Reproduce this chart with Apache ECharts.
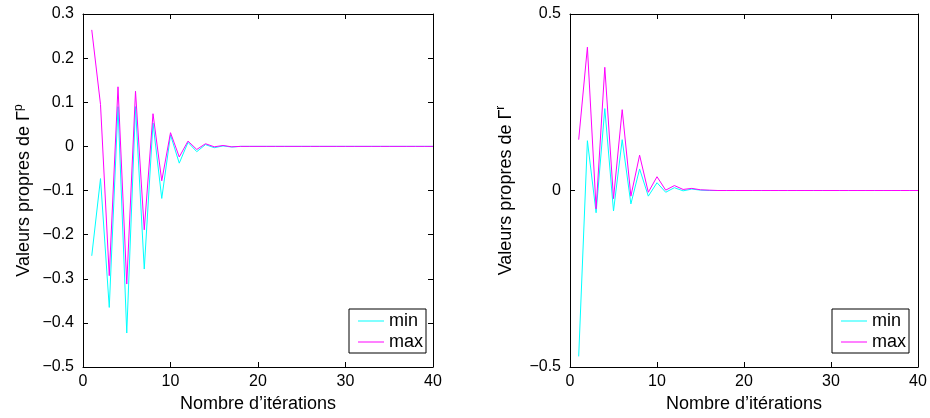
<!DOCTYPE html>
<html><head><meta charset="utf-8">
<script src="https://cdn.jsdelivr.net/npm/echarts@6/dist/echarts.min.js"></script>
<style>html,body{margin:0;padding:0;background:#fff}#c{width:930px;height:418px}</style>
</head><body><div id="c"></div>
<script>
var iterations = [1,2,3,4,5,6,7,8,9,10,11,12,13,14,15,16,17,18,19,20,21,22,23,24,25,26,27,28,29,30,31,32,33,34,35,36,37,38,39,40];
var leftMin = [-0.248,-0.073,-0.365,0.09,-0.423,0.09,-0.278,0.053,-0.118,0.026,-0.038,0.009,-0.012,0.004,-0.003,0.001,-0.0015,0,0,0,0,0,0,0,0,0,0,0,0,0,0,0,0,0,0,0,0,0,0,0];
var leftMax = [0.264,0.095,-0.293,0.135,-0.312,0.125,-0.189,0.074,-0.078,0.031,-0.024,0.012,-0.007,0.006,-0.001,0.002,-0.001,0,0,0,0,0,0,0,0,0,0,0,0,0,0,0,0,0,0,0,0,0,0,0];
var rightMin = [-0.47,0.141,-0.063,0.232,-0.058,0.144,-0.038,0.061,-0.016,0.022,-0.005,0.008,-0.001,0.004,0.001,0,0,0,0,0,0,0,0,0,0,0,0,0,0,0,0,0,0,0,0,0,0,0,0,0];
var rightMax = [0.144,0.406,-0.052,0.349,-0.023,0.229,-0.016,0.1,-0.005,0.039,0.001,0.014,0.003,0.006,0.002,0.001,0,0,0,0,0,0,0,0,0,0,0,0,0,0,0,0,0,0,0,0,0,0,0,0];
var xTicks = [0,10,20,30,40];
var seriesNames = ['min','max'];

function pairs(ys){ return iterations.map(function(x,i){return [x, ys[i]];}); }
var FONT = 'Liberation Sans, Arial, sans-serif';
var lab = {color:'#000', fontFamily:FONT, fontSize:16};
var axLine = {show:true, onZero:false, lineStyle:{color:'#000', width:1}};
var tick = {show:true, inside:true, length:5, lineStyle:{color:'#000'}};
function xAx(gi, pos, showLab){
  return {type:'value', gridIndex:gi, position:pos, min:xTicks[0], max:xTicks[xTicks.length-1], interval:10,
    axisLine:axLine, axisTick:tick, splitLine:{show:false},
    axisLabel: showLab ? Object.assign({margin:7}, lab) : {show:false},
    name: showLab ? 'Nombre d\u2019itérations' : '', nameLocation:'middle', nameGap:28,
    nameTextStyle:{color:'#000', fontFamily:FONT, fontSize:18}};
}
function yAx(gi, pos, showLab, mn, mx, iv, sup, gap){
  return {type:'value', gridIndex:gi, position:pos, min:mn, max:mx, interval:iv,
    axisLine:axLine, axisTick:tick, splitLine:{show:false},
    axisLabel: showLab ? Object.assign({margin:9, formatter:function(v){return v<0?'\u2212'+(+(-v).toFixed(1)):String(+v.toFixed(1));}}, lab) : {show:false},
    name: showLab ? '{a|Valeurs propres de \u0393}{s|' + sup + '}' : '', nameLocation:'middle', nameGap:gap, nameRotate:90,
    nameTextStyle:{color:'#000', fontFamily:FONT, fontSize:18,
      rich:{a:{fontFamily:FONT, fontSize:18, color:'#000'}, s:{fontFamily:FONT, fontSize:12, color:'#000', padding:[0,0,10,0]}}}};
}
function legendAt(l){
  return {left:l, top:309, orient:'vertical', data:seriesNames, icon:'rect', itemWidth:26, itemHeight:1, itemGap:3,
     borderColor:'#000', borderWidth:1, borderRadius:0, padding:[3,3,2,9], backgroundColor:'#fff',
     textStyle:{color:'#000', fontFamily:FONT, fontSize:18}, selectedMode:false};
}
var chart = echarts.init(document.getElementById('c'));
var ls = function(c){return {color:c, width:1};};
chart.setOption({
  animation:false,
  backgroundColor:'#fff',
  grid:[{left:83, right:497, top:14, bottom:50},{left:570, right:12, top:14, bottom:50}],
  xAxis:[xAx(0,'bottom',true), xAx(0,'top',false), xAx(1,'bottom',true), xAx(1,'top',false)],
  yAxis:[yAx(0,'left',true,-0.5,0.3,0.1,'p',48), yAx(0,'right',false,-0.5,0.3,0.1,'',0),
         yAx(1,'left',true,-0.5,0.5,0.5,'r',53), yAx(1,'right',false,-0.5,0.5,0.5,'',0)],
  legend:[legendAt(349), legendAt(832)],
  series:[
    {name:seriesNames[0], type:'line', xAxisIndex:0, yAxisIndex:0, data:pairs(leftMin), symbol:'none', lineStyle:ls('#00ffff'), itemStyle:{color:'#00ffff'}, z:2},
    {name:seriesNames[1], type:'line', xAxisIndex:0, yAxisIndex:0, data:pairs(leftMax), symbol:'none', lineStyle:ls('#ff00ff'), itemStyle:{color:'#ff00ff'}, z:3},
    {name:seriesNames[0], type:'line', xAxisIndex:2, yAxisIndex:2, data:pairs(rightMin), symbol:'none', lineStyle:ls('#00ffff'), itemStyle:{color:'#00ffff'}, z:2},
    {name:seriesNames[1], type:'line', xAxisIndex:2, yAxisIndex:2, data:pairs(rightMax), symbol:'none', lineStyle:ls('#ff00ff'), itemStyle:{color:'#ff00ff'}, z:3}
  ]
});
</script></body></html>
